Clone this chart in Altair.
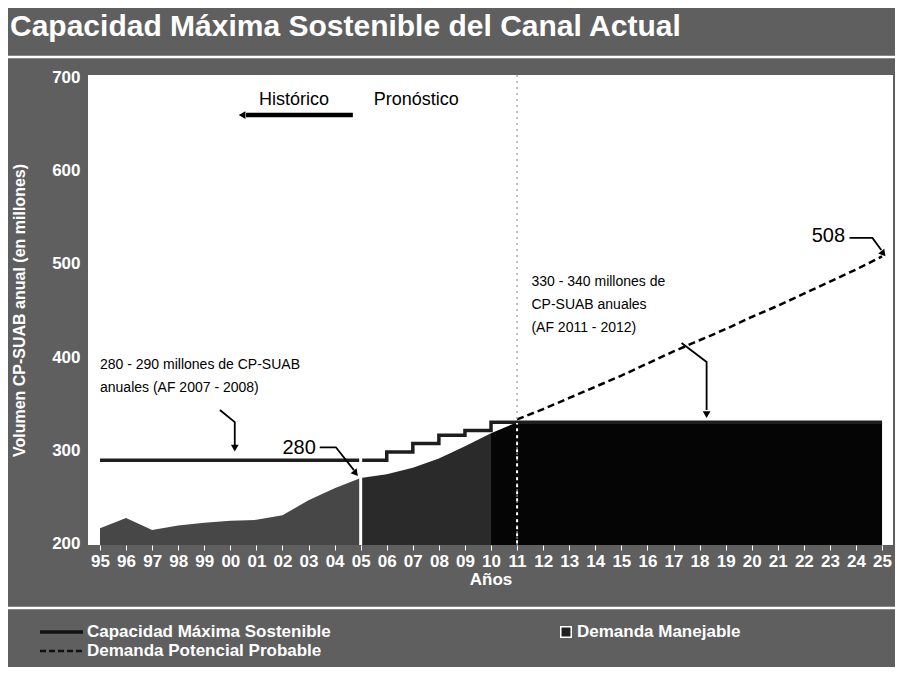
import altair as alt
import pandas as pd

# ---------------- data ----------------
dm_years = [1995, 1996, 1997, 1998, 1999, 2000, 2001, 2002, 2003, 2004, 2005,
            2005, 2006, 2007, 2008, 2009, 2010,
            2010, 2011, 2012, 2013, 2014, 2015, 2016, 2017, 2018, 2019, 2020,
            2021, 2022, 2023, 2024, 2025]
dm_vals = [216, 227, 214, 219, 222, 224, 225, 230, 246, 259, 270,
           270, 274, 281, 291, 304, 318,
           318, 330, 330, 330, 330, 330, 330, 330, 330, 330, 330,
           330, 330, 330, 330, 330]
dm_tramo = ["hist"] * 11 + ["trans"] * 6 + ["full"] * 16

cap_years = [1995, 1996, 1997, 1998, 1999, 2000, 2001, 2002, 2003, 2004, 2005,
             2006, 2007, 2008, 2009, 2010, 2011, 2012, 2013, 2014, 2015, 2016,
             2017, 2018, 2019, 2020, 2021, 2022, 2023, 2024, 2025]
cap_vals = [289, 289, 289, 289, 289, 289, 289, 289, 289, 289, 289,
            298, 307, 316, 321, 330, 330, 330, 330, 330, 330, 330,
            330, 330, 330, 330, 330, 330, 330, 330, 330]

pot_years = [2011, 2012, 2013, 2014, 2015, 2016, 2017, 2018, 2019, 2020,
             2021, 2022, 2023, 2024, 2025]
pot_vals = [333, 344, 356, 368, 380, 393, 406, 418, 430, 443,
            455, 468, 481, 494, 508]

tick_years = list(range(1995, 2026))

ann_text = ["Histórico", "Pronóstico",
            "280 - 290 millones de CP-SUAB", "anuales (AF 2007 - 2008)",
            "280",
            "330 - 340 millones de", "CP-SUAB anuales", "(AF 2011 - 2012)",
            "508"]
ann_x = [2001.1, 2005.5, 1995.0, 1995.0, 2002.0, 2011.55, 2011.55, 2011.55, 2022.3]
ann_y = [676, 676, 391, 367, 302, 481, 456, 431, 530]
ann_size = [18, 18, 14, 14, 20, 14, 14, 14, 20]

arr_id = ["a1", "a1", "a1", "a2", "a2", "a2", "a3", "a3", "a3", "a4", "a4", "a4",
          "h", "h"]
arr_x = [1999.6, 2000.17, 2000.17, 2003.43, 2004.05, 2004.74,
         2017.31, 2018.27, 2018.27, 2023.75, 2024.63, 2024.97,
         2000.6, 2004.7]
arr_y = [343, 330, 305, 303, 303, 278.5,
         415, 394.6, 343, 528, 528, 515,
         660, 660]
arr_ord = [0, 1, 2, 0, 1, 2, 0, 1, 2, 0, 1, 2, 0, 1]

head_x = [2000.17, 2004.81, 2018.27, 2025.05, 2000.45]
head_y = [302, 275, 338, 511, 660]
head_shape = ["triangle-down", "triangle-down", "triangle-down", "triangle-down", "triangle-left"]
head_angle = [0, 321, 0, 321, 0]

FONT = "Liberation Sans"

dm_df = pd.DataFrame({"anio": dm_years, "v": dm_vals, "tramo": dm_tramo})
cap_df = pd.DataFrame({"anio": cap_years, "v": cap_vals})
pot_df = pd.DataFrame({"anio": pot_years, "v": pot_vals})
ann_df = pd.DataFrame({"x": ann_x, "y": ann_y, "t": ann_text, "s": ann_size})
arr_df = pd.DataFrame({"x": arr_x, "y": arr_y, "id": arr_id, "o": arr_ord})
head_df = pd.DataFrame({"x": head_x, "y": head_y, "shape": head_shape, "ang": head_angle})

xscale = alt.Scale(domain=[1994.54, 2025.42], nice=False, zero=False)
yscale = alt.Scale(domain=[198, 703], nice=False, zero=False)

x_axis = alt.Axis(values=tick_years,
                  labelExpr="(datum.value % 100 < 10 ? '0' : '') + (datum.value % 100)",
                  title="Años", labelColor="white", titleColor="white",
                  labelFont=FONT, titleFont=FONT, labelFontSize=17, labelFontWeight="bold",
                  titleFontSize=17, titleFontWeight="bold", titlePadding=2,
                  labelPadding=3, tickColor="white", tickSize=5, domain=False,
                  grid=False, labelOverlap=False, labelFlush=False)
y_axis = alt.Axis(values=[200, 300, 400, 500, 600, 700],
                  title="Volumen CP-SUAB anual (en millones)",
                  labelColor="white", titleColor="white", labelFont=FONT,
                  titleFont=FONT, labelFontSize=17, labelFontWeight="bold",
                  titleFontSize=16, titleFontWeight="bold", labelPadding=8,
                  titlePadding=24, ticks=False, domain=False, grid=False)

area = alt.Chart(dm_df).mark_area(opacity=1).encode(
    x=alt.X("anio:Q", scale=xscale, axis=x_axis),
    y=alt.Y("v:Q", scale=yscale, stack=None, axis=y_axis),
    color=alt.Color("tramo:N", scale=alt.Scale(domain=["hist", "trans", "full"],
                                                range=["#474747", "#2a2a2a", "#050505"]),
                    legend=None),
    detail="tramo:N"
)

cap_line = alt.Chart(cap_df).mark_line(color="#1e1e1e", strokeWidth=3.5,
                                       interpolate="step-after").encode(
    x=alt.X("anio:Q", scale=xscale, axis=x_axis), y=alt.Y("v:Q", scale=yscale, axis=y_axis))

pot_line = alt.Chart(pot_df).mark_line(color="black", strokeWidth=2.5,
                                       strokeDash=[7, 4]).encode(
    x=alt.X("anio:Q", scale=xscale, axis=x_axis), y=alt.Y("v:Q", scale=yscale, axis=y_axis))

sep05 = alt.Chart(pd.DataFrame({"anio": [2005], "v": [198], "v2": [293]})).mark_rule(
    color="white", strokeWidth=3).encode(
    x=alt.X("anio:Q", scale=xscale, axis=x_axis), y=alt.Y("v:Q", scale=yscale, axis=y_axis), y2="v2:Q")

sep11 = alt.Chart(pd.DataFrame({"anio": [2011], "v": [198], "v2": [703]})).mark_rule(
    color="#9a9a9a", strokeWidth=1.2, strokeDash=[2, 4]).encode(
    x=alt.X("anio:Q", scale=xscale, axis=x_axis), y=alt.Y("v:Q", scale=yscale, axis=y_axis), y2="v2:Q")

sep11w = alt.Chart(pd.DataFrame({"anio": [2011], "v": [200], "v2": [329]})).mark_rule(
    color="white", strokeWidth=2, strokeDash=[3, 4]).encode(
    x=alt.X("anio:Q", scale=xscale, axis=x_axis), y=alt.Y("v:Q", scale=yscale, axis=y_axis), y2="v2:Q")

arrows = alt.Chart(arr_df).mark_line(color="black").encode(
    x=alt.X("x:Q", scale=xscale, axis=x_axis), y=alt.Y("y:Q", scale=yscale, axis=y_axis),
    detail="id:N", order="o:Q",
    strokeWidth=alt.condition("datum.id == 'h'", alt.value(4.5), alt.value(1.8)))

heads = alt.Chart(head_df).mark_point(filled=True, color="black", size=60, opacity=1).encode(
    x=alt.X("x:Q", scale=xscale, axis=x_axis), y=alt.Y("y:Q", scale=yscale, axis=y_axis),
    shape=alt.Shape("shape:N", scale=None), angle=alt.Angle("ang:Q", scale=None))

texts = alt.Chart(ann_df).mark_text(align="left", baseline="middle", color="black",
                                    font=FONT).encode(
    x=alt.X("x:Q", scale=xscale, axis=x_axis), y=alt.Y("y:Q", scale=yscale, axis=y_axis),
    text="t:N", size=alt.Size("s:Q", scale=None))

# ---- page furniture (title, separators, legend) ----
title = alt.Chart(pd.DataFrame({"t": ["Capacidad Máxima Sostenible del Canal Actual"]})).mark_text(
    align="left", baseline="middle", color="white", fontSize=30, fontWeight="bold",
    font=FONT).encode(text="t:N", x=alt.value(-78), y=alt.value(-48))

sep_lines = alt.Chart(pd.DataFrame({"yy": [-18, 533]})).mark_rule(
    color="white", strokeWidth=2.5).encode(
    x=alt.value(-88), x2=alt.value(815), y=alt.Y("yy:Q", scale=None))

leg_txt = alt.Chart(pd.DataFrame({
    "t": ["Capacidad Máxima Sostenible", "Demanda Potencial Probable", "Demanda Manejable"],
    "px": [-1, -1, 489], "py": [557, 576, 557]})).mark_text(
    align="left", baseline="middle", color="white", fontSize=17, fontWeight="bold",
    font=FONT).encode(text="t:N", x=alt.X("px:Q", scale=None), y=alt.Y("py:Q", scale=None))

leg_solid = alt.Chart(pd.DataFrame({"a": [1]})).mark_rule(color="#111", strokeWidth=3.5).encode(
    x=alt.value(-48), x2=alt.value(-5), y=alt.value(557))
leg_dash = alt.Chart(pd.DataFrame({"a": [1]})).mark_rule(color="#111", strokeWidth=2.5,
                                                        strokeDash=[6, 3]).encode(
    x=alt.value(-48), x2=alt.value(-5), y=alt.value(576))
leg_sq = alt.Chart(pd.DataFrame({"a": [1]})).mark_point(
    shape="square", filled=True, color="#202020", stroke="white", strokeWidth=1.5,
    size=110, opacity=1).encode(x=alt.value(478), y=alt.value(557))

chart = alt.layer(
    area, cap_line, pot_line, sep05, sep11, sep11w, arrows, heads, texts,
    title, sep_lines, leg_solid, leg_dash, leg_sq, leg_txt
).properties(
    width=805, height=470,
    autosize=alt.AutoSizeParams(type="none"),
    padding={"left": 80, "top": 67, "right": 2, "bottom": 122},
    background="#5f5f5f"
).configure_view(fill="white", strokeWidth=0).configure_axis(labelOverlap=False)

chart.save("out.html", embed_options={"renderer": "svg", "actions": False})
